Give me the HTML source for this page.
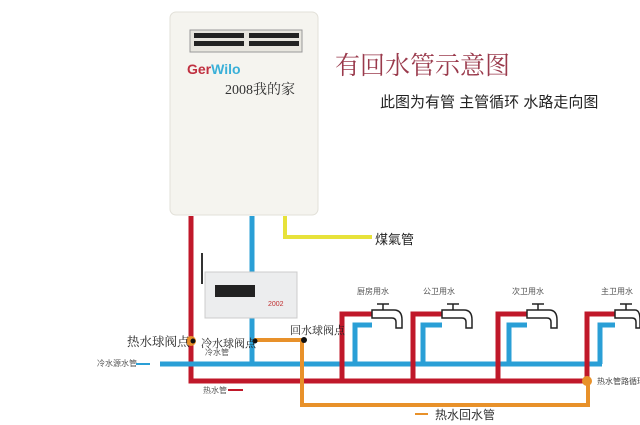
<!DOCTYPE html>
<html><head><meta charset="utf-8"><style>
body{margin:0;width:640px;height:425px;background:#fff;overflow:hidden;position:relative;font-family:"Liberation Sans","Noto Sans CJK SC",sans-serif}
.t{position:absolute;white-space:nowrap}
</style></head><body>
<svg width="640" height="425" style="position:absolute;left:0;top:0">
<rect x="170" y="12" width="148" height="203" rx="6" fill="#f5f4ef" stroke="#e2e0d8"/>
<rect x="190" y="30" width="112" height="22" fill="#e8e6df" stroke="#999"/>
<rect x="194" y="33" width="50" height="5" fill="#222"/><rect x="249" y="33" width="50" height="5" fill="#222"/>
<rect x="194" y="41" width="50" height="5" fill="#222"/><rect x="249" y="41" width="50" height="5" fill="#222"/>
<polyline points="285,216 285,237 372,237" fill="none" stroke="#e7e23a" stroke-width="4"/>
<polyline points="191,216 191,381 587,381" fill="none" stroke="#c0182a" stroke-width="5"/>
<line x1="160" y1="364" x2="602" y2="364" stroke="#2a9fd6" stroke-width="5"/>
<line x1="252" y1="216" x2="252" y2="364" stroke="#2a9fd6" stroke-width="5"/>
<polyline points="254,340 302,340 302,405 588,405 588,381" fill="none" stroke="#e8912a" stroke-width="4"/>
<g fill="none" stroke-width="5">
<polyline points="342,381 342,314 372,314" stroke="#c0182a"/>
<polyline points="355,364 355,325 372,325" stroke="#2a9fd6"/>
<polyline points="413,381 413,314 442,314" stroke="#c0182a"/>
<polyline points="423,364 423,325 442,325" stroke="#2a9fd6"/>
<polyline points="498,381 498,314 527,314" stroke="#c0182a"/>
<polyline points="509,364 509,325 527,325" stroke="#2a9fd6"/>
<polyline points="587,381 587,314 615,314" stroke="#c0182a"/>
<polyline points="600,364 600,325 615,325" stroke="#2a9fd6"/>
</g>
<g fill="#fff" stroke="#222" stroke-width="1.5">
<path d="M372,310 h22 q8,0 8,10 v8 h-6 v-6 q0,-4 -4,-4 h-20 z"/><line x1="383" y1="310" x2="383" y2="304"/><line x1="377" y1="304" x2="389" y2="304"/>
<path d="M442,310 h22 q8,0 8,10 v8 h-6 v-6 q0,-4 -4,-4 h-20 z"/><line x1="453" y1="310" x2="453" y2="304"/><line x1="447" y1="304" x2="459" y2="304"/>
<path d="M527,310 h22 q8,0 8,10 v8 h-6 v-6 q0,-4 -4,-4 h-20 z"/><line x1="538" y1="310" x2="538" y2="304"/><line x1="532" y1="304" x2="544" y2="304"/>
<path d="M615,310 h20 q5,0 5,10 v8 h-4 v-6 q0,-4 -4,-4 h-17 z"/><line x1="626" y1="310" x2="626" y2="304"/><line x1="620" y1="304" x2="632" y2="304"/>
</g>
<line x1="202" y1="253" x2="202" y2="284" stroke="#333" stroke-width="2"/>
<rect x="205" y="272" width="92" height="46" fill="#ecedee" stroke="#ccc"/>
<rect x="215" y="285" width="40" height="12" fill="#222"/>
<text x="268" y="306" font-size="7" fill="#c03030">2002</text>
<circle cx="191" cy="341" r="5" fill="#e8912a"/><circle cx="193" cy="341" r="2.5" fill="#111"/>
<circle cx="255" cy="341" r="2.5" fill="#111"/>
<circle cx="304" cy="340" r="3" fill="#111"/>
<circle cx="587" cy="381" r="5" fill="#e8912a"/>
<line x1="136" y1="364" x2="150" y2="364" stroke="#2a9fd6" stroke-width="2"/>
<line x1="228" y1="390" x2="243" y2="390" stroke="#c0182a" stroke-width="2"/>
<line x1="415" y1="414" x2="428" y2="414" stroke="#e8912a" stroke-width="2"/>
</svg>
<div class="t" style="left:187px;top:61px;font-size:14px;font-weight:bold;color:#c03040">Ger<span style="color:#3ab0d8">Wilo</span></div>
<div class="t" style="left:225px;top:79px;font-size:14px;color:#333;font-family:'Liberation Serif','Noto Serif CJK SC',serif">2008我的家</div>
<div class="t" style="left:335px;top:46px;font-size:25px;color:#9a3a4c;font-family:'Liberation Serif','Noto Serif CJK SC',serif">有回水管示意图</div>
<div class="t" style="left:380px;top:91px;font-size:15px;color:#222">此图为有管 主管循环 水路走向图</div>
<div class="t" style="left:375px;top:229px;font-size:13px;color:#222">煤氣管</div>
<div class="t" style="left:127px;top:332px;font-size:12.5px;color:#222;font-family:'Liberation Serif','Noto Serif CJK SC',serif">热水球阀点</div>
<div class="t" style="left:201px;top:335px;font-size:11px;color:#222;font-family:'Liberation Serif','Noto Serif CJK SC',serif">冷水球阀点</div>
<div class="t" style="left:290px;top:322px;font-size:11px;color:#222;font-family:'Liberation Serif','Noto Serif CJK SC',serif">回水球阀点</div>
<div class="t" style="left:205px;top:347px;font-size:8px;color:#555">冷水管</div>
<div class="t" style="left:97px;top:358px;font-size:8px;color:#555">冷水源水管</div>
<div class="t" style="left:203px;top:385px;font-size:8px;color:#555">热水管</div>
<div class="t" style="left:435px;top:406px;font-size:12px;color:#333">热水回水管</div>
<div class="t" style="left:597px;top:376px;font-size:8px;color:#444">热水管路循环</div>
<div class="t" style="left:357px;top:286px;font-size:8px;color:#555">厨房用水</div>
<div class="t" style="left:423px;top:286px;font-size:8px;color:#555">公卫用水</div>
<div class="t" style="left:512px;top:286px;font-size:8px;color:#555">次卫用水</div>
<div class="t" style="left:601px;top:286px;font-size:8px;color:#555">主卫用水</div>
</body></html>
